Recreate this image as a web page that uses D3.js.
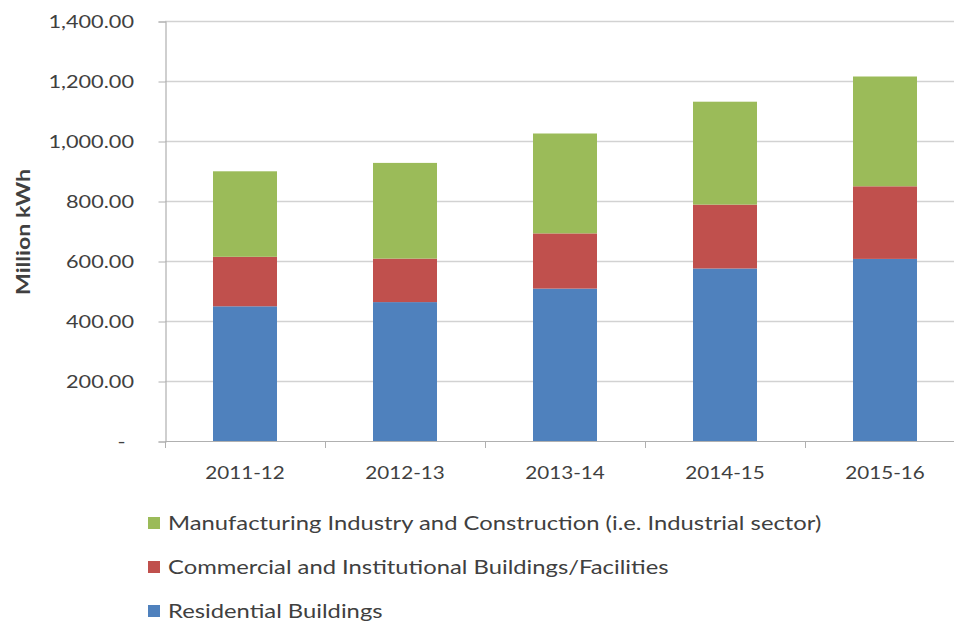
<!DOCTYPE html>
<html>
<head>
<meta charset="utf-8">
<script src="https://cdn.jsdelivr.net/npm/d3@7"></script>
<style>
  html, body { margin: 0; padding: 0; background: #fff; }
  svg { display: block; }
  text { font-family: Lato, "Open Sans", sans-serif; fill: #404040; }
</style>
</head>
<body>
<svg id="chart" width="954" height="625"></svg>
<script>
// Electricity consumption by sector (Million kWh)
const years = ["2011-12", "2012-13", "2013-14", "2014-15", "2015-16"];
const residential = [449, 463, 508, 575, 607];
const commercial = [165, 145, 184, 213, 242];
const industrial = [285, 319, 333, 343, 366];
const yTicks = [0, 200, 400, 600, 800, 1000, 1200, 1400];

const seriesNames = [
  "Residential Buildings",
  "Commercial and Institutional Buildings/Facilities",
  "Manufacturing Industry and Construction (i.e. Industrial sector)"
];
const seriesColors = ["#4F81BD", "#C0504D", "#9BBB59"];
const seriesValues = [residential, commercial, industrial];

const rows = years.map((yr, i) => {
  const r = { year: yr };
  seriesNames.forEach((n, k) => { r[n] = seriesValues[k][i]; });
  return r;
});
const stacked = d3.stack().keys(seriesNames)(rows);

const svg = d3.select("#chart");
const plotLeft = 165, plotRight = 965, plotTop = 21, plotBottom = 441;
// glyphs are drawn slightly widened to give the wide label face
const widen = 1.22;

const x = d3.scaleBand().domain(years).range([plotLeft, plotRight]).paddingInner(0.6).paddingOuter(0.3);
const xBounds = d3.scalePoint().domain(d3.range(years.length + 1)).range([plotLeft, plotRight]);
const y = d3.scaleLinear().domain([0, 1400]).range([plotBottom, plotTop]);

// horizontal gridlines
svg.append("g")
  .selectAll("line")
  .data(yTicks.filter(t => t > 0))
  .join("line")
  .attr("x1", plotLeft).attr("x2", 954)
  .attr("y1", d => Math.round(y(d)) + 0.5).attr("y2", d => Math.round(y(d)) + 0.5)
  .attr("stroke", "#d2d2d2").attr("stroke-width", 1.6);

// y axis (accounting style: zero shown as a dash)
const fmt = d3.format(",.2f");
const yAxis = svg.append("g")
  .attr("transform", `translate(${plotLeft + 0.5},0.5)`)
  .call(d3.axisLeft(y).tickValues(yTicks).tickSize(7)
    .tickFormat(d => d === 0 ? "-" : fmt(d)));
yAxis.select(".domain").attr("stroke", "#b0b0b0").attr("stroke-width", 1.2);
yAxis.selectAll(".tick line").attr("stroke", "#b0b0b0");
yAxis.selectAll(".tick text")
  .attr("x", null)
  .attr("transform", d => `translate(${d === 0 ? -40 : -31.5},0) scale(${widen + 0.02},1)`)
  .style("font-size", "17.5px")
  .attr("fill", "#404040");

// stacked bars
svg.append("g")
  .selectAll("g")
  .data(stacked)
  .join("g")
  .attr("fill", (d, i) => seriesColors[i])
  .selectAll("rect")
  .data(d => d)
  .join("rect")
  .attr("x", d => x(d.data.year))
  .attr("width", x.bandwidth())
  .attr("y", d => y(d[1]))
  .attr("height", d => y(d[0]) - y(d[1]));

// x axis baseline and category boundary ticks
svg.append("line")
  .attr("x1", plotLeft).attr("x2", 954)
  .attr("y1", plotBottom + 0.5).attr("y2", plotBottom + 0.5)
  .attr("stroke", "#b0b0b0").attr("stroke-width", 1.2);
svg.append("g")
  .selectAll("line")
  .data(d3.range(years.length + 1))
  .join("line")
  .attr("x1", d => Math.round(xBounds(d)) + 0.5).attr("x2", d => Math.round(xBounds(d)) + 0.5)
  .attr("y1", plotBottom).attr("y2", plotBottom + 7)
  .attr("stroke", "#b0b0b0");

// category labels
svg.append("g")
  .selectAll("text")
  .data(years)
  .join("text")
  .attr("transform", d => `translate(${x(d) + x.bandwidth() / 2},479) scale(${widen - 0.04},1)`)
  .attr("text-anchor", "middle")
  .style("font-size", "17.5px")
  .text(d => d);

// y axis title
svg.append("text")
  .attr("transform", `translate(30,232) rotate(-90) scale(${widen},1)`)
  .attr("text-anchor", "middle")
  .style("font-size", "19px")
  .style("font-weight", "bold")
  .attr("fill", "#262626")
  .text("Million kWh");

// legend (industrial listed first)
const legendOrder = [2, 1, 0];
const lg = svg.append("g")
  .selectAll("g")
  .data(legendOrder)
  .join("g")
  .attr("transform", (d, i) => `translate(148,${523 + i * 44})`);
lg.append("rect")
  .attr("x", 0).attr("y", -6).attr("width", 12).attr("height", 12)
  .attr("fill", d => seriesColors[d]);
lg.append("text")
  .attr("transform", `translate(20,0) scale(${widen},1)`)
  .attr("dy", "0.35em")
  .style("font-size", "19.5px")
  .attr("fill", "#333")
  .text(d => seriesNames[d]);
</script>
</body>
</html>
